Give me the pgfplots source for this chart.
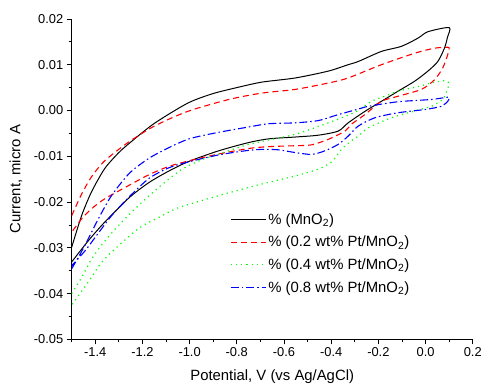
\documentclass[border=0pt]{standalone}
\usepackage{fontspec}
\setmainfont{Liberation Sans}
\usepackage{pgfplots}
\pgfplotsset{compat=1.18}
\definecolor{cvred}{RGB}{255,0,0}
\definecolor{cvgreen}{RGB}{0,255,0}
\definecolor{cvblue}{RGB}{0,0,255}
\begin{document}
\begin{tikzpicture}
\begin{axis}[
  scale only axis, width=403bp, height=322bp,
  xmin=-1.5, xmax=0.2, ymin=-0.05, ymax=0.02,
  axis x line*=bottom, axis y line*=left,
  axis line style={line width=0.8bp},
  xtick={-1.4,-1.2,-1.0,-0.8,-0.6,-0.4,-0.2,0.0,0.2},
  minor xtick={-1.5,-1.3,-1.1,-0.9,-0.7,-0.5,-0.3,-0.1,0.1},
  ytick={-0.05,-0.04,-0.03,-0.02,-0.01,0.0,0.01,0.02},
  minor ytick={-0.045,-0.035,-0.025,-0.015,-0.005,0.005,0.015},
  tick align=outside,
  major tick length=5bp, minor tick length=3bp,
  tick style={line width=0.8bp, black},
  scaled y ticks=false, scaled x ticks=false,
  /pgf/number format/assume math mode=true,
  xticklabel style={/pgf/number format/.cd, fixed, fixed zerofill, precision=1},
  yticklabel style={/pgf/number format/.cd, fixed, fixed zerofill, precision=2},
  tick label style={font=\fontsize{13}{15}\selectfont},
  xlabel={Potential, V (vs Ag/AgCl)},
  ylabel={Current, micro A},
  label style={font=\fontsize{15}{18}\selectfont},
  xlabel style={at={(axis description cs:0.5,-0.115)}, anchor=center},
  ylabel style={at={(axis description cs:-0.139,0.5)}, anchor=center},
  legend style={draw=none, fill=none, at={(0.395,0.40)}, anchor=north west,
    font=\fontsize{15}{18}\selectfont, row sep=6.5bp, inner sep=0pt},
  legend cell align=left,
  legend image code/.code={\draw[#1] (0bp,0bp) -- (35bp,0bp);},
]
% MnO2
\addplot[black, line width=1bp, smooth, tension=0.45] coordinates {
(-1.5,-0.0299) (-1.458,-0.0230) (-1.416,-0.0178) (-1.36,-0.0127) (-1.30,-0.0092)
(-1.247,-0.0068) (-1.149,-0.0028) (-1.008,0.0016) (-0.9,0.0037) (-0.783,0.0052)
(-0.693,0.0062) (-0.552,0.0071) (-0.412,0.0086) (-0.328,0.0100) (-0.285,0.0107)
(-0.187,0.0129) (-0.103,0.0140) (-0.032,0.0158) (0.010,0.0172) (0.1,0.0181)
(0.093,0.0160) (0.080,0.0136) (0.052,0.0107) (0.010,0.0086) (-0.046,0.0064)
(-0.117,0.0042) (-0.187,0.0020) (-0.257,-0.0002) (-0.328,-0.0027) (-0.370,-0.0045)
(-0.454,-0.0054) (-0.552,-0.0058) (-0.665,-0.0062) (-0.749,-0.0070) (-0.876,-0.0088)
(-1.002,-0.0111) (-1.087,-0.0132) (-1.171,-0.0157) (-1.255,-0.0190) (-1.36,-0.0244)
(-1.43,-0.0285) (-1.5,-0.0331)
};
\addlegendentry{\% (MnO\textsubscript{2})}
% 0.2 wt%
\addplot[cvred, line width=1.1bp, dash pattern=on 6bp off 4bp, smooth, tension=0.45] coordinates {
(-1.5,-0.0230) (-1.458,-0.0183) (-1.416,-0.0145) (-1.36,-0.0110) (-1.261,-0.0070)
(-1.149,-0.0034) (-1.008,-0.0002) (-0.834,0.0024) (-0.693,0.0038) (-0.552,0.0046)
(-0.412,0.0060) (-0.328,0.0071) (-0.187,0.0100) (-0.046,0.0125) (0.038,0.0136)
(0.094,0.0138) (0.1,0.0135) (0.094,0.0122) (0.073,0.0093) (0.038,0.0067)
(-0.018,0.0046) (-0.117,0.0031) (-0.187,0.0020) (-0.257,-0.0009) (-0.314,-0.0030)
(-0.341,-0.0045) (-0.412,-0.0063) (-0.482,-0.0075) (-0.552,-0.0077) (-0.665,-0.0079)
(-0.749,-0.0083) (-0.876,-0.0095) (-1.002,-0.0110) (-1.087,-0.0122) (-1.171,-0.0140)
(-1.255,-0.0163) (-1.36,-0.0193) (-1.416,-0.0215) (-1.458,-0.0237) (-1.5,-0.0266)
};
\addlegendentry{\% (0.2 wt\% Pt/MnO\textsubscript{2})}
% 0.4 wt%
\addplot[cvgreen, line width=1.2bp, dash pattern=on 1.2bp off 4bp, smooth, tension=0.45] coordinates {
(-1.5,-0.0400) (-1.458,-0.0365) (-1.416,-0.0325) (-1.373,-0.0294) (-1.331,-0.0268)
(-1.275,-0.0237) (-1.199,-0.0199) (-1.115,-0.0161) (-1.031,-0.0128) (-0.95,-0.0108)
(-0.834,-0.0088) (-0.756,-0.0075) (-0.679,-0.0066) (-0.552,-0.0052) (-0.412,-0.0027)
(-0.3,-0.0004) (-0.229,0.0020) (-0.173,0.0031) (-0.117,0.0042) (-0.025,0.0053)
(0.024,0.0060) (0.080,0.0065) (0.1,0.0060)
(0.094,0.0048) (0.087,0.0038) (0.073,0.0024) (0.024,0.0009) (-0.046,-0.0001)
(-0.145,-0.0016) (-0.243,-0.0038) (-0.285,-0.0056) (-0.314,-0.0066) (-0.356,-0.0085)
(-0.398,-0.0112) (-0.454,-0.0128) (-0.552,-0.0143) (-0.665,-0.0157) (-0.749,-0.0168)
(-0.890,-0.0188) (-1.045,-0.0212) (-1.129,-0.0233) (-1.219,-0.0259) (-1.36,-0.0324)
(-1.43,-0.0375) (-1.5,-0.0425)
};
\addlegendentry{\% (0.4 wt\% Pt/MnO\textsubscript{2})}
% 0.8 wt%
\addplot[cvblue, line width=1.1bp, dash pattern=on 8bp off 3bp on 1.5bp off 3bp, smooth, tension=0.45] coordinates {
(-1.5,-0.0346) (-1.444,-0.0295) (-1.387,-0.0237) (-1.331,-0.0186) (-1.255,-0.0137)
(-1.171,-0.0104) (-1.087,-0.0081) (-1.002,-0.0062) (-0.890,-0.0049) (-0.749,-0.0036)
(-0.665,-0.0029) (-0.552,-0.0027) (-0.454,-0.0022) (-0.370,-0.0009) (-0.285,0.0003)
(-0.243,0.0009) (-0.117,0.0019) (0.024,0.0024) (0.094,0.0029) (0.1,0.0027)
(0.094,0.0020) (0.066,0.0009) (-0.004,0.0002) (-0.117,-0.0005) (-0.215,-0.0016)
(-0.285,-0.0034) (-0.328,-0.0056) (-0.370,-0.0074) (-0.426,-0.0088) (-0.482,-0.0096)
(-0.552,-0.0092) (-0.623,-0.0086) (-0.693,-0.0085) (-0.763,-0.0088) (-0.876,-0.0097)
(-1.002,-0.0112) (-1.087,-0.0125) (-1.171,-0.0148) (-1.255,-0.0188) (-1.331,-0.0230)
(-1.387,-0.0268) (-1.444,-0.0307) (-1.5,-0.0339)
};
\addlegendentry{\% (0.8 wt\% Pt/MnO\textsubscript{2})}
\end{axis}
\path ([shift={(-72bp,-48bp)}]current axis.south west) rectangle ([shift={(10bp,19bp)}]current axis.north east);
\end{tikzpicture}
\end{document}
